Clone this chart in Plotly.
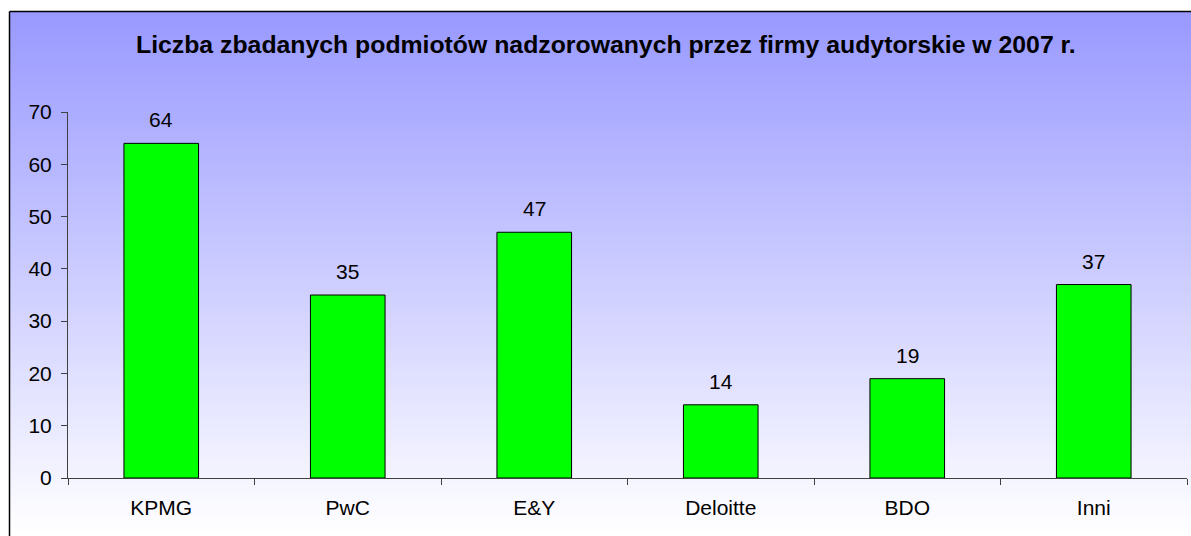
import plotly.graph_objects as go

# ---- data ----
categories = ["KPMG", "PwC", "E&Y", "Deloitte", "BDO", "Inni"]
values = [64, 35, 47, 14, 19, 37]
y_ticks = [0, 10, 20, 30, 40, 50, 60, 70]
title_text = "Liczba zbadanych podmiotów nadzorowanych przez firmy audytorskie w 2007 r."

W, H = 1191, 536
ML, MR, MT, MB = 68, 4, 112, 58
PW = W - ML - MR
PH = H - MT - MB


def px_to_paper_x(px):
    return (px - ML) / PW


def px_to_paper_y(py):
    return (H - MB - py) / PH


FONT = "Liberation Sans, Arial, sans-serif"

fig = go.Figure()
fig.add_trace(go.Bar(
    x=categories, y=values,
    marker=dict(color="#00FF00", line=dict(color="#000000", width=1)),
    hoverinfo="x+y",
))

# value labels
annotations = []
for c, v in zip(categories, values):
    annotations.append(dict(x=c, y=v, xref="x", yref="y", text=str(v),
                            showarrow=False, yanchor="bottom", yshift=10,
                            font=dict(family=FONT, size=21, color="#000000")))
annotations.append(dict(x=px_to_paper_x(606), y=px_to_paper_y(45), xref="paper", yref="paper",
                        text="<b>" + title_text + "</b>", showarrow=False,
                        xanchor="center", yanchor="middle",
                        font=dict(family=FONT, size=24.8, color="#000000")))

# gradient background strips
shapes = []
top, bottom = 12, H
left = 10
N = 131
c0 = (153, 153, 255)
c1 = (255, 255, 255)
for i in range(N):
    y0 = top + (bottom - top) * i / N
    y1 = top + (bottom - top) * (i + 1) / N + 0.6
    t = i / (N - 1)
    col = tuple(round(a + (b - a) * t) for a, b in zip(c0, c1))
    shapes.append(dict(type="rect", xref="paper", yref="paper",
                       x0=px_to_paper_x(left), x1=px_to_paper_x(W + 2),
                       y0=px_to_paper_y(y0), y1=px_to_paper_y(y1),
                       fillcolor="rgb(%d,%d,%d)" % col, line=dict(width=0), layer="below"))
# frame (left and top)
shapes.append(dict(type="line", xref="paper", yref="paper",
                   x0=px_to_paper_x(9.5), x1=px_to_paper_x(9.5),
                   y0=px_to_paper_y(11.5), y1=px_to_paper_y(H + 2),
                   line=dict(color="#000000", width=1.5)))
shapes.append(dict(type="line", xref="paper", yref="paper",
                   x0=px_to_paper_x(9.5), x1=px_to_paper_x(W + 2),
                   y0=px_to_paper_y(11.5), y1=px_to_paper_y(11.5),
                   line=dict(color="#000000", width=1.5)))

fig.update_layout(
    width=W, height=H,
    margin=dict(l=ML, r=MR, t=MT, b=MB, pad=0),
    paper_bgcolor="#FFFFFF",
    plot_bgcolor="rgba(0,0,0,0)",
    bargap=0.6,
    showlegend=False,
    annotations=annotations,
    shapes=shapes,
    font=dict(family=FONT, size=21, color="#000000"),
)
fig.update_xaxes(
    type="category", showgrid=False, showline=True, linecolor="#404040", linewidth=1,
    ticks="outside", ticklen=6, tickcolor="#404040", tickson="boundaries",
    tickfont=dict(family=FONT, size=21, color="#000000"), ticklabelstandoff=11,
)
fig.update_yaxes(
    range=[0, 70], tickvals=y_ticks, showgrid=False, zeroline=False,
    showline=True, linecolor="#404040", linewidth=1,
    ticks="outside", ticklen=6, tickcolor="#404040",
    tickfont=dict(family=FONT, size=21, color="#000000"), ticklabelstandoff=5,
)

fig.write_html("out.html", config={"displayModeBar": False},
               post_script="document.body.style.margin='0';document.body.style.overflow='hidden';")
